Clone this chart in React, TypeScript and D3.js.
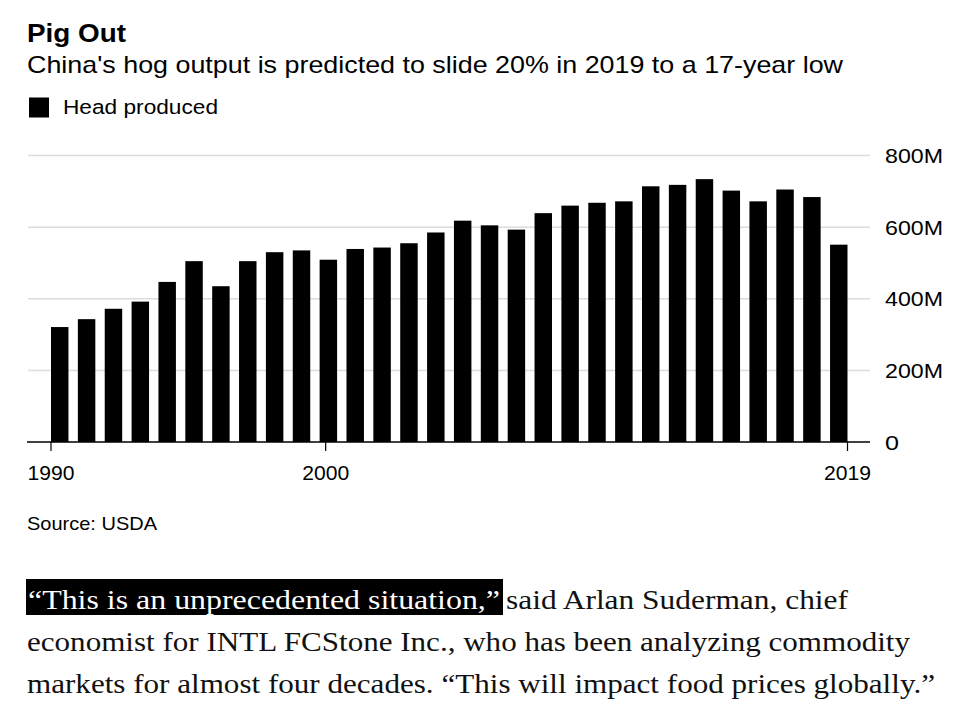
import React from "react";
import * as d3 from "d3";

const years: number[] = d3.range(1990, 2020);
const headProduced: number[] = [
  321, 343, 372, 392, 447, 505, 435, 505, 530, 535,
  509, 539, 543, 555, 585, 618, 605, 593, 639, 660,
  668, 672, 714, 718, 734, 702, 672, 705, 684, 551,
];
const yTicks: number[] = [0, 200, 400, 600, 800];
const xTicks: number[] = [1990, 2000, 2019];

const title = "Pig Out";
const subtitle = "China's hog output is predicted to slide 20% in 2019 to a 17-year low";
const legendLabel = "Head produced";
const source = "Source: USDA";
const highlight = "\u201CThis is an unprecedented situation,\u201D";
const line1Rest = "said Arlan Suderman, chief";
const line2 = "economist for INTL FCStone Inc., who has been analyzing commodity";
const line3 = "markets for almost four decades. \u201CThis will impact food prices globally.\u201D";

const SANS = "'Liberation Sans', Arial, Helvetica, sans-serif";
const SERIF = "'Liberation Serif', 'Times New Roman', serif";

export default function App() {
  const left = 51;
  const right = 847.5;
  const y = d3.scaleLinear().domain([0, 800]).range([442, 155.5]);
  const xBand = d3.scaleBand<number>().domain(years).range([left, right]).paddingInner(0.35).paddingOuter(0);
  const xLin = d3.scaleLinear().domain([1990, 2019]).range([left, right]);

  return (
    <svg width={966} height={724} style={{ position: "absolute", left: 0, top: 0, background: "#fff" }}>
      <text x={27} y={42} fontFamily={SANS} fontWeight={700} fontSize={25.5} fill="#000" textLength={99} lengthAdjust="spacingAndGlyphs">{title}</text>
      <text x={27} y={73} fontFamily={SANS} fontSize={24} fill="#000" textLength={816} lengthAdjust="spacingAndGlyphs">{subtitle}</text>
      <rect x={29} y={97.5} width={20} height={20} fill="#000" />
      <text x={63} y={114} fontFamily={SANS} fontSize={20.5} fill="#000" textLength={155} lengthAdjust="spacingAndGlyphs">{legendLabel}</text>

      {yTicks.map((t) => (
        <g key={t}>
          {t > 0 && <line x1={28} x2={870} y1={y(t)} y2={y(t)} stroke="#dcdcdc" strokeWidth={1.5} />}
          <text x={885} y={y(t) + 7.5} fontFamily={SANS} fontSize={20.5} fill="#000"
            textLength={t === 0 ? 14 : 58} lengthAdjust="spacingAndGlyphs">
            {t === 0 ? "0" : `${t}M`}
          </text>
        </g>
      ))}

      {years.map((yr, i) => (
        <rect key={yr} x={xBand(yr)} y={y(headProduced[i])} width={xBand.bandwidth()} height={y(0) - y(headProduced[i])} fill="#000" />
      ))}

      <line x1={27} x2={870} y1={y(0)} y2={y(0)} stroke="#000" strokeWidth={1.5} />
      {xTicks.map((t) => (
        <g key={t}>
          <line x1={xLin(t)} x2={xLin(t)} y1={y(0)} y2={y(0) + 9} stroke="#000" strokeWidth={1.2} />
          <text x={xLin(t)} y={480} textAnchor="middle" fontFamily={SANS} fontSize={20.5} fill="#000" textLength={47} lengthAdjust="spacingAndGlyphs">{t}</text>
        </g>
      ))}

      <text x={27} y={530} fontFamily={SANS} fontSize={19} fill="#000" textLength={130} lengthAdjust="spacingAndGlyphs">{source}</text>

      <rect x={26} y={579} width={477} height={36} fill="#000" />
      <text x={28} y={609} fontFamily={SERIF} fontSize={28} fill="#fff" textLength={472} lengthAdjust="spacingAndGlyphs">{highlight}</text>
      <text x={506} y={609} fontFamily={SERIF} fontSize={28} fill="#111" textLength={342} lengthAdjust="spacingAndGlyphs">{line1Rest}</text>
      <text x={27} y={651} fontFamily={SERIF} fontSize={28} fill="#111" textLength={883} lengthAdjust="spacingAndGlyphs">{line2}</text>
      <text x={27} y={693} fontFamily={SERIF} fontSize={28} fill="#111" textLength={908} lengthAdjust="spacingAndGlyphs">{line3}</text>
    </svg>
  );
}
